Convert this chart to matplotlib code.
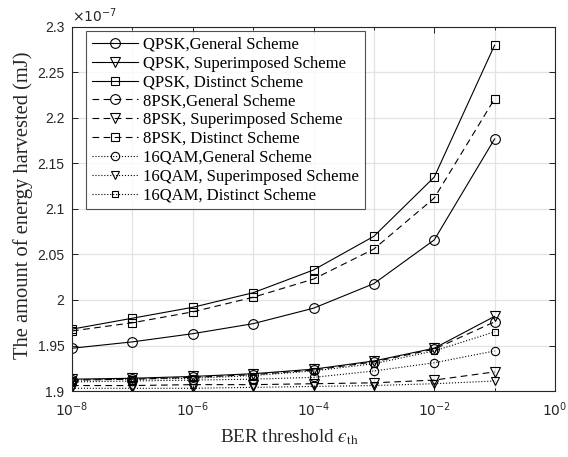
import matplotlib
matplotlib.use("Agg")
import matplotlib.pyplot as plt
from matplotlib.ticker import FuncFormatter, FixedLocator, NullFormatter

plt.rcParams['mathtext.fontset'] = 'dejavusans'

ber = [1e-8, 1e-7, 1e-6, 1e-5, 1e-4, 1e-3, 1e-2, 1e-1]

qpsk_general = [1.947, 1.954, 1.963, 1.974, 1.991, 2.018, 2.066, 2.177]
qpsk_super   = [1.913, 1.914, 1.916, 1.919, 1.924, 1.933, 1.947, 1.982]
qpsk_distinct = [1.968, 1.980, 1.992, 2.008, 2.033, 2.070, 2.135, 2.280]
psk8_general = [1.912, 1.913, 1.915, 1.918, 1.923, 1.932, 1.946, 1.976]
psk8_super   = [1.906, 1.906, 1.907, 1.907, 1.908, 1.909, 1.912, 1.921]
psk8_distinct = [1.966, 1.975, 1.987, 2.003, 2.023, 2.056, 2.112, 2.221]
qam16_general = [1.910, 1.911, 1.912, 1.913, 1.915, 1.922, 1.931, 1.944]
qam16_super   = [1.903, 1.903, 1.903, 1.904, 1.905, 1.906, 1.908, 1.911]
qam16_distinct = [1.912, 1.913, 1.914, 1.917, 1.922, 1.930, 1.944, 1.965]

labels = ['QPSK,General Scheme', 'QPSK, Superimposed Scheme', 'QPSK, Distinct Scheme',
          '8PSK,General Scheme', '8PSK, Superimposed Scheme', '8PSK, Distinct Scheme',
          '16QAM,General Scheme', '16QAM, Superimposed Scheme', '16QAM, Distinct Scheme']
series = [qpsk_general, qpsk_super, qpsk_distinct,
          psk8_general, psk8_super, psk8_distinct,
          qam16_general, qam16_super, qam16_distinct]
styles = ['-', '-', '-', (0, (6, 4)), (0, (6, 4)), (0, (6, 4)), ':', ':', ':']
markers = ['o', 'v', 's'] * 3
msizes = [7, 7, 6, 7, 7, 6, 6, 6, 4.5]

fig = plt.figure(figsize=(5.68, 4.57), dpi=100)
ax = fig.add_axes([0.127, 0.1444, 0.850, 0.7966])

for s, lab, ls, mk, ms in zip(series, labels, styles, markers, msizes):
    ax.plot(ber, [v * 1e-7 for v in s], linestyle=ls, marker=mk, color='black',
            markerfacecolor='none', markeredgecolor='black', markersize=ms,
            linewidth=0.8, markeredgewidth=0.8, label=lab)

ax.set_xscale('log')
ax.set_xlim(1e-8, 1)
ax.set_ylim(1.9e-7, 2.3e-7)
ax.xaxis.set_major_locator(FixedLocator([1e-8, 1e-6, 1e-4, 1e-2, 1]))
ax.xaxis.set_minor_locator(FixedLocator([1e-7, 1e-5, 1e-3, 1e-1]))
ax.xaxis.set_minor_formatter(NullFormatter())
ax.set_xticklabels([r'$10^{-8}$', r'$10^{-6}$', r'$10^{-4}$', r'$10^{-2}$', r'$10^{0}$'])
yt = [1.9, 1.95, 2.0, 2.05, 2.1, 2.15, 2.2, 2.25, 2.3]
ax.yaxis.set_major_locator(FixedLocator([v * 1e-7 for v in yt]))
ax.yaxis.set_major_formatter(FuncFormatter(lambda v, p: '%g' % round(v / 1e-7, 3)))

for lab in ax.get_xticklabels() + ax.get_yticklabels():
    lab.set_fontfamily('Liberation Sans')
    lab.set_fontsize(10)
    lab.set_color('#262626')

ax.tick_params(which='both', direction='in', top=True, right=True, length=4, width=0.6)
ax.tick_params(axis='x', which='major', pad=7)
ax.tick_params(axis='y', which='major', pad=5.5)
ax.tick_params(which='minor', length=2)
ax.grid(True, which='major', color='#e3e3e3', linewidth=0.9)
ax.xaxis.grid(True, which='minor', color='#e3e3e3', linewidth=0.9)
ax.set_axisbelow(True)
for sp in ax.spines.values():
    sp.set_linewidth(0.8)
    sp.set_color('#262626')

ax.text(0.0, 1.005, r'$\times10^{-7}$', transform=ax.transAxes, fontsize=10,
        ha='left', va='bottom', color='#262626')

ax.set_xlabel('BER threshold $\u03f5_{\\rm th}$', fontsize=13.8, family='Liberation Serif',
              color='#262626', math_fontfamily='stix')
ax.xaxis.set_label_coords(0.449, -0.10)
ax.set_ylabel('The amount of energy harvested (mJ)', fontsize=14.8, family='Liberation Serif',
              color='#262626')
ax.yaxis.set_label_coords(-0.081, 0.51)

leg = ax.legend(loc='upper left', bbox_to_anchor=(0.018, 1.003), prop={'family': 'Liberation Serif', 'size': 12},
                frameon=True, fancybox=False, edgecolor='#262626', handlelength=2.8,
                labelspacing=0.17, borderpad=0.35, handletextpad=0.3, borderaxespad=0.3)
leg.get_frame().set_linewidth(0.8)

fig.savefig('out.png', dpi=100)
